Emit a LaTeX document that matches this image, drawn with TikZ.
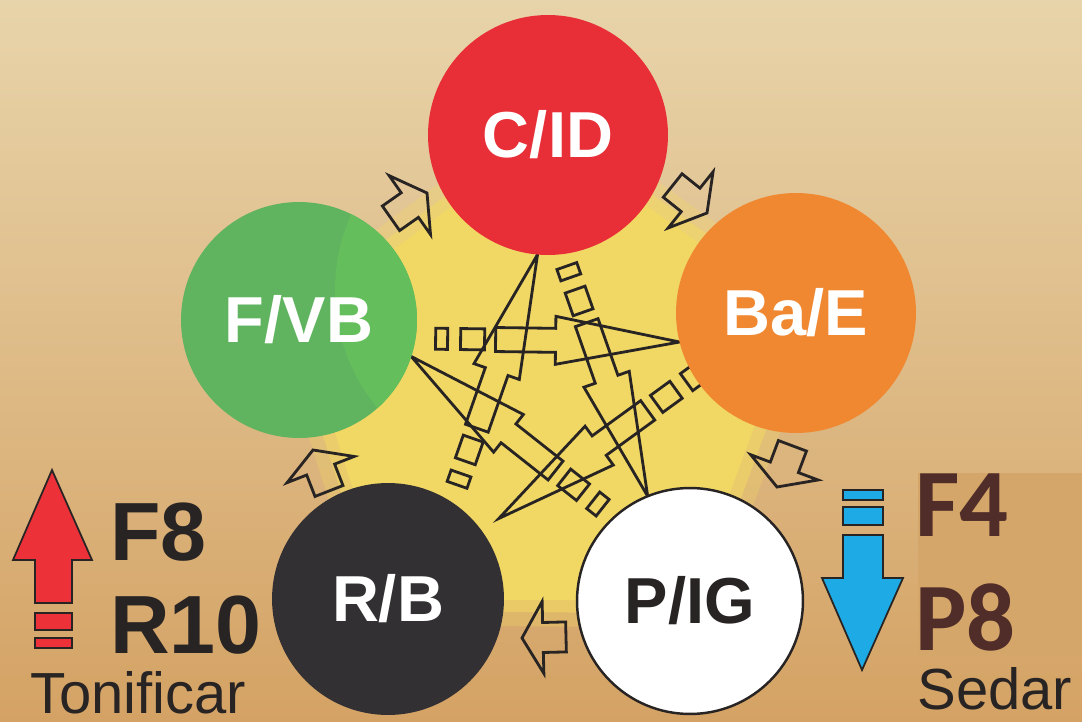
\documentclass[tikz,border=0pt]{standalone}
\usepackage{fontspec}
\setmainfont{Liberation Sans}
\newfontfamily\calib{Carlito}
\usepackage{tikz}
\usetikzlibrary{calc, backgrounds}

\definecolor{parchlight}{RGB}{232,212,170}
\definecolor{parchmid}{RGB}{222,190,138}
\definecolor{parchdark}{RGB}{212,162,100}
\definecolor{pentyellow}{RGB}{241,216,100}
\definecolor{firered}{RGB}{232,46,54}
\definecolor{earthorange}{RGB}{240,136,50}
\definecolor{woodgreen}{RGB}{96,180,96}
\definecolor{woodlight}{RGB}{100,190,92}
\definecolor{waterblack}{RGB}{50,48,50}
\definecolor{inkdark}{RGB}{40,36,36}
\definecolor{tonered}{RGB}{236,50,56}
\definecolor{sedblue}{RGB}{30,170,228}
\definecolor{boxtan}{RGB}{212,166,106}
\definecolor{boxbrown}{RGB}{80,45,40}

\tikzset{
  element/.style={circle, inner sep=0pt, outer sep=0pt, text=white,
    font=\bfseries\fontsize{37}{40}\selectfont},
  bigtext/.style={anchor=base west, inner sep=0pt, text=inkdark, text depth=0pt,
    font=\bfseries\fontsize{47}{50}\selectfont},
  smalltext/.style={anchor=base west, inner sep=0pt, text=inkdark, text depth=0pt,
    font=\fontsize{33}{36}\selectfont},
  boxtext/.style={anchor=base west, inner sep=0pt, text=boxbrown, text depth=0pt,
    font=\calib\bfseries\fontsize{55}{60}\selectfont},
  % control cycle: long arrow with two trailing blocks, tip on the target
  ctrl/.style={draw=inkdark, line width=1.6pt,
    to path={let \p1=($(\tikztotarget)-(\tikztostart)$), \n1={atan2(\y1,\x1)},
      \n2={\n1+180}, \n3={\n1+90}, \n4={\n1-90} in
      ($(\tikztotarget)+(\n2:184)+(\n3:12)$) -- ($(\tikztotarget)+(\n2:124)+(\n3:12)$)
      -- ($(\tikztotarget)+(\n2:124)+(\n3:24)$) -- (\tikztotarget)
      -- ($(\tikztotarget)+(\n2:124)+(\n4:24)$) -- ($(\tikztotarget)+(\n2:124)+(\n4:12)$)
      -- ($(\tikztotarget)+(\n2:184)+(\n4:12)$) -- cycle
      ($(\tikztotarget)+(\n2:195)+(\n3:10.5)$) -- ($(\tikztotarget)+(\n2:219)+(\n3:10.5)$)
      -- ($(\tikztotarget)+(\n2:219)+(\n4:10.5)$) -- ($(\tikztotarget)+(\n2:195)+(\n4:10.5)$) -- cycle
      ($(\tikztotarget)+(\n2:232)+(\n3:10.5)$) -- ($(\tikztotarget)+(\n2:244)+(\n3:10.5)$)
      -- ($(\tikztotarget)+(\n2:244)+(\n4:10.5)$) -- ($(\tikztotarget)+(\n2:232)+(\n4:10.5)$) -- cycle}},
  % generating cycle: short hollow block arrow
  gen/.style={draw=inkdark, line width=1.6pt,
    to path={let \p1=($(\tikztotarget)-(\tikztostart)$), \n1={atan2(\y1,\x1)},
      \n2={\n1+180}, \n3={\n1+90}, \n4={\n1-90} in
      (\tikztotarget) -- ($(\tikztotarget)+(\n2:21)+(\n3:36)$)
      -- ($(\tikztotarget)+(\n2:21)+(\n3:15)$) -- ($(\tikztotarget)+(\n2:44)+(\n3:15)$)
      -- ($(\tikztotarget)+(\n2:44)+(\n4:15)$) -- ($(\tikztotarget)+(\n2:21)+(\n4:15)$)
      -- ($(\tikztotarget)+(\n2:21)+(\n4:36)$) -- cycle}},
}

\begin{document}
\begin{tikzpicture}[x=0.02cm, y=0.02cm]
  \useasboundingbox (0,0) rectangle (1082,721);
  \begin{scope}[on background layer]
    \shade[top color=parchlight, middle color=parchmid, bottom color=parchdark]
      (0,0) rectangle (1082,721);
  \end{scope}

  % elements
  \node[element, fill=firered, minimum size=4.8cm] (cid) at (548,586) {C/ID};
  \node[element, fill=earthorange, minimum size=4.8cm] (bae) at (796,408) {Ba/E};
  \node[element, fill=woodgreen, minimum size=4.72cm] (fvb) at (299,401) {};
  \begin{scope}
    \clip (fvb) circle (118);
    \fill[woodlight] (520,431) circle (185);
  \end{scope}
  \node[element] (fvbtext) at (fvb) {F/VB};
  \node[element, fill=waterblack, minimum size=4.64cm] (rb) at (388,122) {R/B};
  \node[element, fill=white, draw=inkdark, line width=1.4pt, text=inkdark,
    minimum size=4.52cm] (pig) at (690,120) {P/IG};
  \coordinate (rbin) at ($(rb)+(36:137)$);

  \begin{scope}[on background layer]
    \fill[pentyellow] (cid.center) -- (bae.center) -- (pig.center) -- (rb.center)
      -- (fvb.center) -- cycle;
    \draw[pentyellow, line width=30pt, opacity=0.3, line join=round]
      (cid.center) -- (bae.center) -- (pig.center) -- (rb.center) -- (fvb.center) -- cycle;
    \draw[pentyellow, line width=14pt, opacity=0.6, line join=round]
      (cid.center) -- (bae.center) -- (pig.center) -- (rb.center) -- (fvb.center) -- cycle;

    \draw[ctrl] (fvb.-9) to (bae.194);
    \draw[ctrl] (rb.57) to (cid.-95);
    \draw[ctrl] (cid.-83) to (pig.112);
    \draw[ctrl] (bae.212) to (rbin);
    \draw[ctrl] (pig.132) to (fvb.-18);
  \end{scope}

  % generating arrows
  \coordinate (g1a) at (390,502); \coordinate (g1b) at (427,528);
  \coordinate (g2a) at (672,536); \coordinate (g2b) at (707,508);
  \coordinate (g3a) at (792,274); \coordinate (g3b) at (777,234);
  \coordinate (g4a) at (563,84);  \coordinate (g4b) at (522,83);
  \coordinate (g5a) at (329,230); \coordinate (g5b) at (313,271);
  \draw[gen] (g1a) to (g1b);
  \draw[gen] (g2a) to (g2b);
  \draw[gen] (g3a) to (g3b);
  \draw[gen] (g4a) to (g4b);
  \draw[gen] (g5a) to (g5b);

  % tonify
  \draw[fill=tonered, draw=inkdark, line width=1pt] (52,251) -- (92,161) -- (72,161)
    -- (72,118) -- (35,118) -- (35,161) -- (13,161) -- cycle;
  \draw[fill=tonered, draw=inkdark, line width=1pt] (35,108) rectangle (72,91);
  \draw[fill=tonered, draw=inkdark, line width=1pt] (35,83) rectangle (72,73);
  \node[bigtext] (f8) at (110,161) {F8};
  \node[bigtext] (r10) at (110,68) {R10};
  \node[smalltext] (toni) at (30,8) {Tonificar};

  % sedate
  \draw[fill=sedblue, draw=inkdark, line width=1pt] (843,231) rectangle (883,221);
  \draw[fill=sedblue, draw=inkdark, line width=1pt] (843,214) rectangle (883,196);
  \draw[fill=sedblue, draw=inkdark, line width=1pt] (843,186) -- (883,186) -- (883,143)
    -- (903,143) -- (862,51) -- (822,143) -- (843,143) -- cycle;
  \fill[boxtan] (918,66) rectangle (1082,248);
  \node[boxtext] (f4) at (915,185) {F4};
  \node[boxtext] (p8) at (915,71) {P8};
  \node[smalltext] (sedar) at (917,12) {Sedar};
\end{tikzpicture}
\end{document}
